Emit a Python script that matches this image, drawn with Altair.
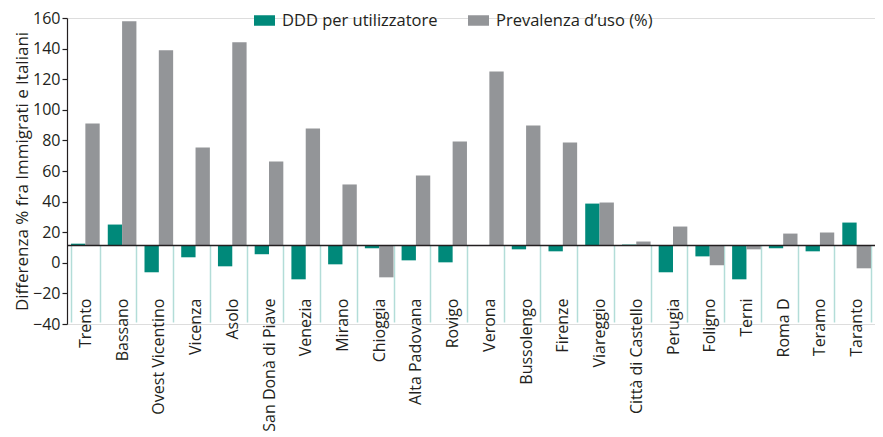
import altair as alt
import pandas as pd

categories = ["Trento", "Bassano", "Ovest Vicentino", "Vicenza", "Asolo",
              "San Donà di Piave", "Venezia", "Mirano", "Chioggia", "Alta Padovana",
              "Rovigo", "Verona", "Bussolengo", "Firenze", "Viareggio",
              "Città di Castello", "Perugia", "Foligno", "Terni", "Roma D",
              "Teramo", "Taranto"]
ddd = [12.5, 25.0, -6.2, 3.6, -2.3, 5.6, -10.8, -1.0, 9.5, 1.6,
       0.3, 11.3, 8.8, 7.5, 38.7, 11.9, -6.2, 4.2, -10.8, 9.5,
       7.5, 26.3]
prevalenza = [91.1, 157.8, 138.9, 75.4, 144.1, 66.2, 87.8, 51.2, -9.5, 57.1,
              79.3, 125.1, 89.8, 78.7, 39.4, 13.9, 23.7, -1.6, 8.8, 19.1,
              19.8, -3.6]
series = ["DDD per utilizzatore", "Prevalenza d’uso (%)"]
colors = ["#00897a", "#939598"]
BASE = 11.3
y_ticks = list(range(-40, 161, 20))
y_title = "Differenza % fra Immigrati e Italiani"

rows = []
for c, d, p in zip(categories, ddd, prevalenza):
    rows.append({"cat": c, "serie": series[0], "val": d, "base": BASE})
    rows.append({"cat": c, "serie": series[1], "val": p, "base": BASE})
df = pd.DataFrame(rows)

FONT = "Open Sans"
DARK = "#231f20"
W, H = 808, 306
LEFT = 59

yscale = alt.Scale(domain=[-40, 160], nice=False, zero=False)
yaxis = alt.Axis(values=y_ticks, title=y_title, grid=False, domainColor=DARK,
                 domainWidth=1.2, tickColor=DARK, tickSize=5, tickWidth=1.2,
                 labelFontSize=16, labelColor=DARK, labelFont=FONT, labelPadding=2,
                 titleFont=FONT, titleFontSize=17, titleFontWeight="normal",
                 titleColor=DARK, titlePadding=1)

base_px = (160 - BASE) / 200 * H
offset = -(H - base_px)

bars = alt.Chart(df).mark_bar().encode(
    x=alt.X("cat:N", sort=categories, title=None,
            scale=alt.Scale(paddingInner=0.22, paddingOuter=0.11),
            axis=alt.Axis(labelAngle=-90, domain=False, tickBand="extent",
                          tickColor="#b3ddd8", tickWidth=1.5, tickSize=H - base_px - 2,
                          offset=offset, labelPadding=-24, labelFontSize=16,
                          labelFont=FONT, labelColor=DARK)),
    xOffset=alt.XOffset("serie:N", sort=series),
    y=alt.Y("val:Q", scale=yscale, axis=yaxis),
    y2="base:Q",
    color=alt.Color("serie:N", sort=series,
                    scale=alt.Scale(domain=series, range=colors),
                    legend=alt.Legend(title=None, orient="none", legendX=187, legendY=-8,
                                      direction="horizontal",
                                      symbolType="M-1,-0.5H1V0.5H-1Z", symbolSize=441,
                                      symbolStrokeWidth=0, labelFontSize=16.5,
                                      labelFont=FONT, labelColor=DARK, labelOffset=7,
                                      columnPadding=30)),
)

rule = alt.Chart(pd.DataFrame({"base": [BASE]})).mark_rule(
    color=DARK, strokeWidth=1.5
).encode(y=alt.Y("base:Q", scale=yscale, axis=yaxis))

chart = alt.layer(bars, rule).properties(
    width=W, height=H,
    autosize=alt.AutoSizeParams(type="none"),
    padding={"left": LEFT, "top": 10, "right": 0, "bottom": 437 - 16 - 10 - H + 8},
).configure_view(stroke=None).configure(font=FONT)

chart.save("out.html", embed_options={"renderer": "svg", "actions": False})
